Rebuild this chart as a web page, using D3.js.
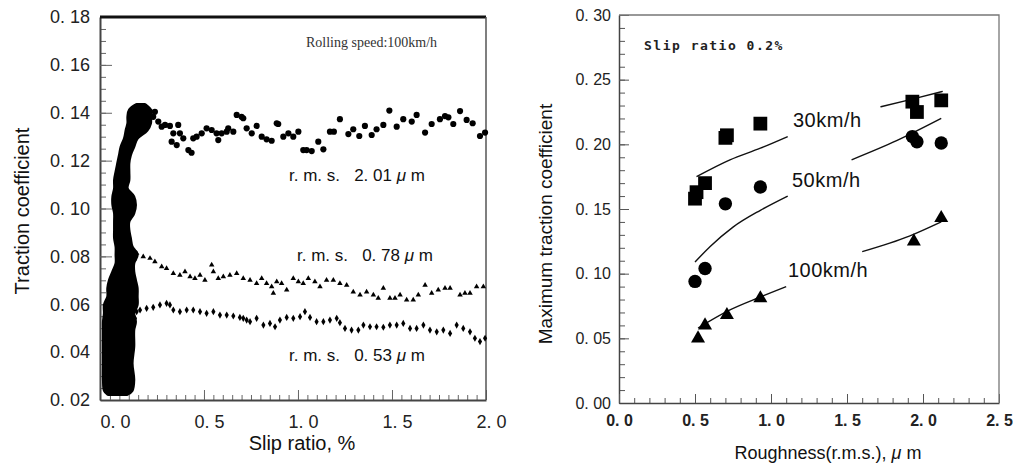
<!DOCTYPE html>
<html>
<head>
<meta charset="utf-8">
<script src="https://cdn.jsdelivr.net/npm/d3@7"></script>
<style>
body { margin: 0; background: #fff; }
svg text { font-family: Arial, "Liberation Sans", sans-serif; }
</style>
</head>
<body>
<script>
// ---- left panel: traction coefficient vs slip ratio (100 km/h) ----
const leftYTicks = [0.02, 0.04, 0.06, 0.08, 0.10, 0.12, 0.14, 0.16, 0.18];
const leftYLabels = ["0. 02", "0. 04", "0. 06", "0. 08", "0. 10", "0. 12", "0. 14", "0. 16", "0. 18"];
const leftXTicks = [0, 0.5, 1.0, 1.5, 2.0];
const leftXLabels = ["0. 0", "0. 5", "1. 0", "1. 5", "2. 0"];

// dense cloud near zero slip: [traction, left edge slip, right edge slip]
const blobEdges = [
  [0.1432, 0.142, 0.186], [0.1411, 0.106, 0.213], [0.1384, 0.098, 0.213],
  [0.1356, 0.098, 0.213], [0.1328, 0.089, 0.195], [0.1293, 0.080, 0.142],
  [0.1258, 0.062, 0.124], [0.1223, 0.053, 0.106], [0.1189, 0.044, 0.098],
  [0.1154, 0.035, 0.098], [0.1119, 0.027, 0.098], [0.1084, 0.027, 0.089],
  [0.1049, 0.018, 0.124], [0.1015, 0.018, 0.133], [0.0980, 0.027, 0.124],
  [0.0945, 0.027, 0.098], [0.0910, 0.027, 0.098], [0.0876, 0.027, 0.106],
  [0.0840, 0.035, 0.115], [0.0806, 0.035, 0.142], [0.0771, 0.035, 0.124],
  [0.0736, 0.018, 0.124], [0.0701, 0.000, 0.133], [0.0667, -0.009, 0.142],
  [0.0632, -0.009, 0.142], [0.0597, -0.027, 0.142], [0.0562, -0.027, 0.124],
  [0.0527, -0.032, 0.133], [0.0492, -0.032, 0.124], [0.0423, -0.032, 0.124],
  [0.0353, -0.032, 0.115], [0.0284, -0.032, 0.124], [0.0240, -0.027, 0.115],
  [0.0225, -0.010, 0.090]
];

// r.m.s. 2.01 um (circles)
const rms201 = [
  [0.160, 0.1425], [0.186, 0.1411], [0.213, 0.1404], [0.239, 0.1404], [0.230, 0.1383],
  [0.257, 0.1363], [0.275, 0.1342], [0.293, 0.1349], [0.319, 0.1345], [0.363, 0.1349],
  [0.337, 0.1314], [0.372, 0.1314], [0.390, 0.1293], [0.328, 0.1279], [0.355, 0.1265],
  [0.417, 0.1244], [0.434, 0.1233], [0.443, 0.1293], [0.461, 0.1300], [0.488, 0.1314],
  [0.514, 0.1335], [0.541, 0.1328], [0.576, 0.1286], [0.567, 0.1314], [0.594, 0.1314],
  [0.621, 0.1321], [0.629, 0.1335], [0.656, 0.1321], [0.674, 0.1391], [0.700, 0.1383],
  [0.709, 0.1377], [0.727, 0.1335], [0.754, 0.1314], [0.780, 0.1345], [0.807, 0.1300],
  [0.833, 0.1289], [0.860, 0.1283], [0.887, 0.1356], [0.895, 0.1353], [0.922, 0.1300],
  [0.949, 0.1314], [0.975, 0.1300], [1.002, 0.1321], [1.028, 0.1244], [1.046, 0.1244],
  [1.073, 0.1240], [1.108, 0.1279], [1.135, 0.1247], [1.170, 0.1321], [1.191, 0.1321],
  [1.223, 0.1373], [1.268, 0.1311], [1.294, 0.1331], [1.326, 0.1303], [1.356, 0.1345],
  [1.392, 0.1307], [1.418, 0.1331], [1.454, 0.1349], [1.486, 0.1409], [1.525, 0.1342],
  [1.560, 0.1373], [1.605, 0.1363], [1.631, 0.1391], [1.676, 0.1317], [1.711, 0.1353],
  [1.755, 0.1373], [1.782, 0.1386], [1.800, 0.1381], [1.826, 0.1353], [1.862, 0.1407],
  [1.897, 0.1370], [1.929, 0.1356], [1.968, 0.1303], [1.995, 0.1317]
];

// r.m.s. 0.78 um (triangles)
const rms078 = [
  [0.120, 0.0820], [0.130, 0.0790], [0.142, 0.0813], [0.177, 0.0799], [0.213, 0.0792],
  [0.239, 0.0778], [0.275, 0.0757], [0.301, 0.0750], [0.337, 0.0729], [0.372, 0.0722],
  [0.399, 0.0736], [0.426, 0.0715], [0.452, 0.0708], [0.479, 0.0722], [0.505, 0.0701],
  [0.541, 0.0764], [0.550, 0.0736], [0.576, 0.0708], [0.603, 0.0715], [0.638, 0.0722],
  [0.674, 0.0729], [0.709, 0.0708], [0.745, 0.0701], [0.780, 0.0687], [0.807, 0.0708],
  [0.833, 0.0687], [0.860, 0.0673], [0.869, 0.0646], [0.887, 0.0694], [0.913, 0.0687],
  [0.940, 0.0660], [0.975, 0.0708], [1.002, 0.0694], [1.028, 0.0687], [1.055, 0.0708],
  [1.090, 0.0694], [1.117, 0.0673], [1.152, 0.0701], [1.188, 0.0701], [1.223, 0.0687],
  [1.259, 0.0680], [1.294, 0.0652], [1.330, 0.0639], [1.365, 0.0652], [1.401, 0.0639],
  [1.427, 0.0625], [1.454, 0.0667], [1.489, 0.0625], [1.516, 0.0625], [1.543, 0.0639],
  [1.578, 0.0618], [1.613, 0.0618], [1.640, 0.0639], [1.676, 0.0680], [1.711, 0.0646],
  [1.746, 0.0660], [1.782, 0.0667], [1.809, 0.0667], [1.862, 0.0639], [1.888, 0.0646],
  [1.915, 0.0646], [1.950, 0.0673], [1.986, 0.0673]
];

// r.m.s. 0.53 um (small diamonds)
const rms053 = [
  [0.124, 0.0520], [0.133, 0.0541], [0.142, 0.0569], [0.160, 0.0576], [0.195, 0.0583],
  [0.230, 0.0587], [0.266, 0.0597], [0.301, 0.0604], [0.319, 0.0597], [0.337, 0.0576],
  [0.372, 0.0569], [0.408, 0.0576], [0.443, 0.0576], [0.479, 0.0569], [0.514, 0.0562],
  [0.550, 0.0569], [0.585, 0.0555], [0.621, 0.0555], [0.656, 0.0551], [0.691, 0.0545],
  [0.709, 0.0541], [0.727, 0.0534], [0.745, 0.0527], [0.780, 0.0541], [0.816, 0.0513],
  [0.851, 0.0520], [0.878, 0.0506], [0.904, 0.0534], [0.940, 0.0545], [0.975, 0.0541],
  [1.011, 0.0548], [1.037, 0.0569], [1.064, 0.0545], [1.099, 0.0527], [1.135, 0.0527],
  [1.170, 0.0534], [1.206, 0.0541], [1.223, 0.0523], [1.250, 0.0499], [1.285, 0.0492],
  [1.321, 0.0492], [1.348, 0.0513], [1.383, 0.0506], [1.418, 0.0506], [1.454, 0.0504],
  [1.489, 0.0513], [1.525, 0.0513], [1.560, 0.0520], [1.596, 0.0499], [1.631, 0.0499],
  [1.667, 0.0513], [1.702, 0.0492], [1.738, 0.0485], [1.773, 0.0492], [1.809, 0.0478],
  [1.844, 0.0513], [1.879, 0.0499], [1.915, 0.0485], [1.941, 0.0458], [1.968, 0.0444],
  [1.995, 0.0458]
];

// ---- right panel: max traction coefficient vs roughness ----
const rightYTicks = [0, 0.05, 0.10, 0.15, 0.20, 0.25, 0.30];
const rightYLabels = ["0. 00", "0. 05", "0. 10", "0. 15", "0. 20", "0. 25", "0. 30"];
const rightXTicks = [0, 0.5, 1.0, 1.5, 2.0, 2.5];
const rightXLabels = ["0. 0", "0. 5", "1. 0", "1. 5", "2. 0", "2. 5"];

const speed30 = [[0.50, 0.158], [0.51, 0.163], [0.566, 0.170], [0.70, 0.205], [0.71, 0.207],
  [0.93, 0.216], [1.93, 0.233], [1.96, 0.225], [2.12, 0.234]];
const speed50 = [[0.50, 0.094], [0.566, 0.104], [0.70, 0.154], [0.93, 0.167],
  [1.93, 0.206], [1.96, 0.202], [2.12, 0.201]];
const speed100 = [[0.52, 0.050], [0.566, 0.060], [0.71, 0.068], [0.93, 0.081],
  [1.94, 0.125], [2.12, 0.143]];

// fitted curves, null = gap left for the label
const fit30 = [[0.51, 0.175], [0.73, 0.188], [0.93, 0.197], [1.11, 0.206], null,
  [1.72, 0.229], [1.93, 0.235], [2.13, 0.241]];
const fit50 = [[0.50, 0.109], [0.60, 0.121], [0.75, 0.136], [0.93, 0.149], [1.11, 0.160], null,
  [1.53, 0.188], [1.83, 0.203], [2.12, 0.220]];
const fit100 = [[0.52, 0.058], [0.73, 0.072], [0.93, 0.082], [1.10, 0.090], null,
  [1.60, 0.117], [1.91, 0.129], [2.12, 0.140]];

const svg = d3.select('body').append('svg')
  .attr('width', 1013)
  .attr('height', 466);

// ================= left panel =================
const leftX = d3.scaleLinear().domain([-0.053, 2.0]).range([100, 486]);
const leftY = d3.scaleLinear().domain([0.02, 0.18]).range([400, 17]);

function styleAxis(g, size, color) {
  g.attr('font-size', size)
    .attr('font-family', 'Arial, "Liberation Sans", sans-serif')
    .attr('color', color);
}

// minor ticks first
svg.append('g')
  .attr('transform', `translate(${leftX.range()[0]},0)`)
  .call(d3.axisLeft(leftY).tickValues(d3.range(0.02, 0.1801, 0.005)).tickFormat('').tickSize(-6))
  .call(g => g.select('.domain').remove())
  .call(g => g.selectAll('line').attr('stroke', '#666'));

svg.append('g')
  .attr('transform', `translate(0,${leftY.range()[0]})`)
  .call(d3.axisBottom(leftX).tickValues(d3.range(0, 2.001, 0.05)).tickFormat('').tickSize(-5))
  .call(g => g.select('.domain').remove())
  .call(g => g.selectAll('line').attr('stroke', '#666'));

const yAxisL = svg.append('g')
  .attr('transform', `translate(${leftX.range()[0]},0)`)
  .call(d3.axisLeft(leftY).tickValues(leftYTicks).tickFormat((d, i) => leftYLabels[i])
    .tickSizeInner(-12).tickSizeOuter(0).tickPadding(10))
  .call(g => styleAxis(g, 18, '#222'));
yAxisL.select('.domain').attr('stroke', '#444').attr('stroke-width', 2);
yAxisL.selectAll('.tick line').attr('stroke', '#666');

const xAxisL = svg.append('g')
  .attr('transform', `translate(0,${leftY.range()[0]})`)
  .call(d3.axisBottom(leftX).tickValues(leftXTicks).tickFormat((d, i) => leftXLabels[i])
    .tickSizeInner(-10).tickSizeOuter(0).tickPadding(15))
  .call(g => styleAxis(g, 18, '#222'));
xAxisL.select('.domain').attr('stroke', '#444').attr('stroke-width', 2);
xAxisL.selectAll('.tick line').attr('stroke', '#666');
xAxisL.selectAll('.tick text').attr('dx', 5);

// frame: thick top, thin right
svg.append('line')
  .attr('x1', leftX.range()[0]).attr('x2', leftX.range()[1])
  .attr('y1', leftY.range()[1]).attr('y2', leftY.range()[1])
  .attr('stroke', '#111').attr('stroke-width', 3);
svg.append('line')
  .attr('x1', leftX.range()[1]).attr('x2', leftX.range()[1])
  .attr('y1', leftY.range()[1]).attr('y2', leftY.range()[0])
  .attr('stroke', '#555').attr('stroke-width', 1.5);

// cloud near zero slip
const blobArea = d3.area()
  .y(d => leftY(d[0]))
  .x0(d => leftX(d[1]))
  .x1(d => leftX(d[2]))
  .curve(d3.curveCatmullRom);
svg.append('path')
  .datum(blobEdges)
  .attr('d', blobArea)
  .attr('fill', '#000')
  .attr('stroke', '#000')
  .attr('stroke-width', 4)
  .attr('stroke-linejoin', 'round');

function drawPoints(data, xs, ys, type, size) {
  svg.append('g')
    .selectAll('path')
    .data(data)
    .enter()
    .append('path')
    .attr('transform', d => `translate(${xs(d[0])},${ys(d[1])})`)
    .attr('d', d3.symbol().type(type).size(size))
    .attr('fill', '#000');
}

drawPoints(rms201, leftX, leftY, d3.symbolCircle, 30);
drawPoints(rms078, leftX, leftY, d3.symbolTriangle, 13);
drawPoints(rms053, leftX, leftY, d3.symbolDiamond, 15);

// labels
svg.append('text')
  .attr('x', 306).attr('y', 47)
  .style('font-family', '"Liberation Serif", "Times New Roman", serif')
  .attr('font-size', 14).attr('fill', '#333')
  .text('Rolling speed:100km/h');

function rmsLabel(x, y, value) {
  const t = svg.append('text')
    .attr('x', x).attr('y', y)
    .attr('font-size', 17).attr('fill', '#111')
    .style('white-space', 'pre');
  t.append('tspan').text('r. m. s.   ' + value + ' ');
  t.append('tspan').attr('font-style', 'italic').text('\u03bc');
  t.append('tspan').text(' m');
}
rmsLabel(289, 181, '2. 01');
rmsLabel(297, 261, '0. 78');
rmsLabel(289, 361, '0. 53');

svg.append('text')
  .attr('transform', 'translate(29,211) rotate(-90)')
  .attr('text-anchor', 'middle')
  .attr('font-size', 20).attr('fill', '#111')
  .text('Traction coefficient');

svg.append('text')
  .attr('x', 302).attr('y', 450)
  .attr('text-anchor', 'middle')
  .attr('font-size', 20).attr('fill', '#111')
  .text('Slip ratio, %');

// ================= right panel =================
const rightX = d3.scaleLinear().domain([0, 2.5]).range([619, 999]);
const rightY = d3.scaleLinear().domain([0, 0.30]).range([403, 15]);

svg.append('g')
  .attr('transform', `translate(${rightX.range()[0]},0)`)
  .call(d3.axisLeft(rightY).tickValues(d3.range(0, 0.3001, 0.01)).tickFormat('').tickSize(-6))
  .call(g => g.select('.domain').remove())
  .call(g => g.selectAll('line').attr('stroke', '#555'));

svg.append('g')
  .attr('transform', `translate(0,${rightY.range()[0]})`)
  .call(d3.axisBottom(rightX).tickValues(d3.range(0, 2.501, 0.1)).tickFormat('').tickSize(-5))
  .call(g => g.select('.domain').remove())
  .call(g => g.selectAll('line').attr('stroke', '#555'));

const yAxisR = svg.append('g')
  .attr('transform', `translate(${rightX.range()[0]},0)`)
  .call(d3.axisLeft(rightY).tickValues(rightYTicks).tickFormat((d, i) => rightYLabels[i])
    .tickSizeInner(-10).tickSizeOuter(0).tickPadding(8))
  .call(g => styleAxis(g, 16, '#222'));
yAxisR.select('.domain').attr('stroke', '#444').attr('stroke-width', 1.5);
yAxisR.selectAll('.tick line').attr('stroke', '#555');

const xAxisR = svg.append('g')
  .attr('transform', `translate(0,${rightY.range()[0]})`)
  .call(d3.axisBottom(rightX).tickValues(rightXTicks).tickFormat((d, i) => rightXLabels[i])
    .tickSizeInner(-9).tickSizeOuter(0).tickPadding(12))
  .call(g => styleAxis(g, 16, '#222'));
xAxisR.select('.domain').attr('stroke', '#444').attr('stroke-width', 1.5);
xAxisR.selectAll('.tick line').attr('stroke', '#555');
xAxisR.selectAll('.tick text').attr('font-weight', 'bold');

// top and right border
svg.append('path')
  .attr('d', `M${rightX.range()[0]},${rightY.range()[1]}H${rightX.range()[1]}V${rightY.range()[0]}`)
  .attr('fill', 'none')
  .attr('stroke', '#777')
  .attr('stroke-width', 1.3);

const fitLine = d3.line()
  .defined(d => d !== null)
  .x(d => rightX(d[0]))
  .y(d => rightY(d[1]))
  .curve(d3.curveMonotoneX);

[fit30, fit50, fit100].forEach(f => {
  svg.append('path')
    .datum(f)
    .attr('d', fitLine)
    .attr('fill', 'none')
    .attr('stroke', '#111')
    .attr('stroke-width', 1.4);
});

drawPoints(speed30, rightX, rightY, d3.symbolSquare, 190);
drawPoints(speed50, rightX, rightY, d3.symbolCircle, 140);
drawPoints(speed100, rightX, rightY, d3.symbolTriangle, 85);

svg.append('text')
  .attr('x', 644).attr('y', 50)
  .style('font-family', '"DejaVu Sans Mono", "Liberation Mono", monospace')
  .attr('font-size', 13).attr('font-weight', 'bold')
  .attr('letter-spacing', 1.5).attr('fill', '#222')
  .text('Slip ratio 0.2%');

const speedLabels = [['30km/h', 793, 127], ['50km/h', 792, 187], ['100km/h', 788, 277]];
speedLabels.forEach(([t, x, y]) => {
  svg.append('text')
    .attr('x', x).attr('y', y)
    .attr('font-size', 20).attr('fill', '#111')
    .attr('letter-spacing', 0.5)
    .text(t);
});

svg.append('text')
  .attr('transform', 'translate(552,224) rotate(-90)')
  .attr('text-anchor', 'middle')
  .attr('font-size', 19).attr('fill', '#111')
  .text('Maximum traction coefficient');

const xLabR = svg.append('text')
  .attr('x', 828).attr('y', 459)
  .attr('text-anchor', 'middle')
  .attr('font-size', 18).attr('fill', '#111');
xLabR.append('tspan').text('Roughness(r.m.s.), ');
xLabR.append('tspan').attr('font-style', 'italic').text('\u03bc');
xLabR.append('tspan').text(' m');
</script>
</body>
</html>
